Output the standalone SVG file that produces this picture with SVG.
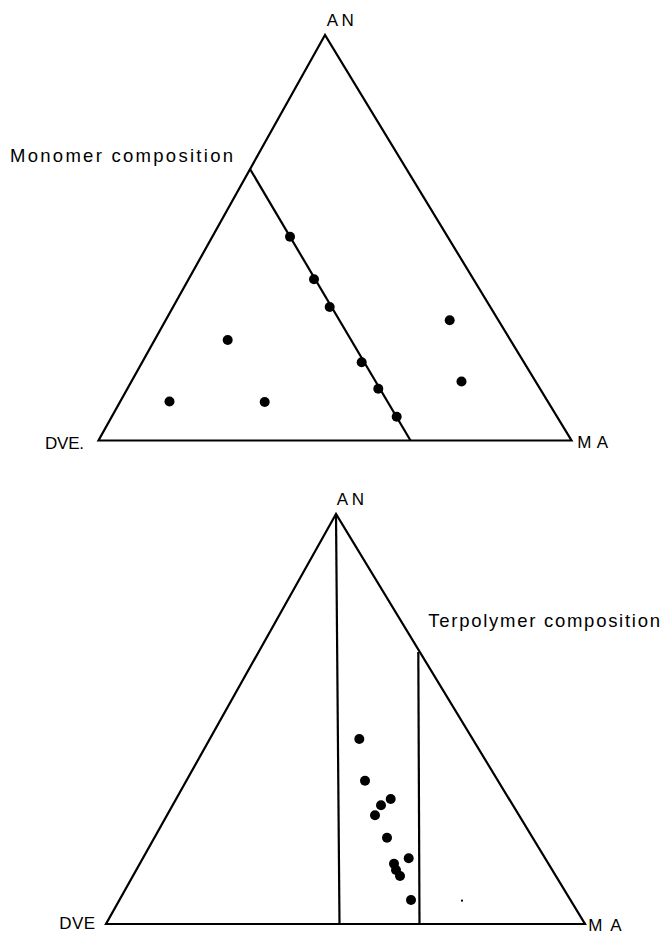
<svg xmlns="http://www.w3.org/2000/svg" width="664" height="933" viewBox="0 0 664 933">
<style>
.ln{fill:none;stroke:#000;stroke-width:2.2;stroke-linejoin:miter;stroke-linecap:butt}
.dot{fill:#000}
.lbl{font-family:"Liberation Sans",Arial,sans-serif;font-size:18.5px;fill:#000}
.vx{font-family:"Liberation Sans",Arial,sans-serif;font-size:17px;fill:#000}
</style>
<rect x="0" y="0" width="664" height="933" fill="#fff"/>
<g id="top-diagram">
  <polygon class="ln" points="325,35 98.5,440.5 571.5,440.5"/>
  <line class="ln" x1="250" y1="169" x2="410.5" y2="440.5"/>
  <g id="top-dots">
    <circle class="dot" cx="290" cy="236.7" r="5"/>
    <circle class="dot" cx="314" cy="279.3" r="5"/>
    <circle class="dot" cx="329.7" cy="307" r="5"/>
    <circle class="dot" cx="361.7" cy="362.3" r="5"/>
    <circle class="dot" cx="378.3" cy="388.7" r="5"/>
    <circle class="dot" cx="396.7" cy="416.7" r="5"/>
    <circle class="dot" cx="227.7" cy="340" r="5"/>
    <circle class="dot" cx="264.7" cy="402" r="5"/>
    <circle class="dot" cx="169.5" cy="401.5" r="5"/>
    <circle class="dot" cx="449.7" cy="320.3" r="5"/>
    <circle class="dot" cx="461.5" cy="381.5" r="5"/>
  </g>
  <text class="vx" x="326.7" y="26" textLength="27" lengthAdjust="spacing">AN</text>
  <text class="vx" x="45" y="449.3" textLength="39" lengthAdjust="spacing">DVE.</text>
  <text class="vx" x="577.3" y="447.7" textLength="30.7" lengthAdjust="spacing">MA</text>
  <text class="lbl" x="10" y="161.7" textLength="223" lengthAdjust="spacing">Monomer composition</text>
</g>
<g id="bottom-diagram">
  <polygon class="ln" points="336,514 106,924 585,924"/>
  <line class="ln" x1="336" y1="514" x2="339.5" y2="924"/>
  <line class="ln" x1="418.3" y1="652" x2="419.5" y2="924"/>
  <g id="bottom-dots">
    <circle class="dot" cx="359.3" cy="739" r="5"/>
    <circle class="dot" cx="365" cy="780.7" r="5"/>
    <circle class="dot" cx="390.7" cy="799" r="5"/>
    <circle class="dot" cx="381" cy="805.3" r="5"/>
    <circle class="dot" cx="375" cy="815.3" r="5"/>
    <circle class="dot" cx="387" cy="837.7" r="5"/>
    <circle class="dot" cx="408.7" cy="858.3" r="5"/>
    <circle class="dot" cx="394" cy="863.7" r="5"/>
    <circle class="dot" cx="396" cy="870" r="5"/>
    <circle class="dot" cx="400" cy="876" r="5"/>
    <circle class="dot" cx="411" cy="900" r="5"/>
    <circle class="dot" cx="462" cy="900.7" r="1.1"/>
  </g>
  <text class="vx" x="336.7" y="505" textLength="27.3" lengthAdjust="spacing">AN</text>
  <text class="vx" x="59.3" y="929.3" textLength="35.7" lengthAdjust="spacing">DVE</text>
  <text class="vx" x="588.3" y="930.5" textLength="33.4" lengthAdjust="spacing">MA</text>
  <text class="lbl" x="428.3" y="626.7" textLength="231.7" lengthAdjust="spacing">Terpolymer composition</text>
</g>
</svg>
